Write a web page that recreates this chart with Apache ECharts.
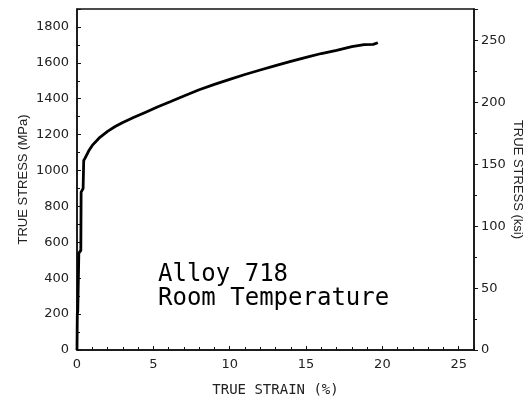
<!DOCTYPE html>
<html>
<head>
<meta charset="utf-8">
<script src="https://cdn.jsdelivr.net/npm/echarts@6/dist/echarts.min.js"></script>
<style>
html,body{margin:0;padding:0;background:#fff;}
#chart{width:526px;height:396px;}
</style>
</head>
<body>
<div id="chart"></div>
<script>
// True strain (%) and true stress (MPa)
var strain = [0, 0.02, 0.05, 0.12, 0.25, 0.27, 0.40, 0.44, 0.52, 0.62, 0.77, 1.0, 1.5, 2.0, 2.5, 3.0, 3.7, 4.5, 5.3, 6.1, 7.0, 8.0, 9.0, 10.0, 11.0, 12.0, 13.0, 14.0, 15.0, 16.0, 17.0, 18.0, 18.8, 19.4, 19.7];
var stressMPa = [0, 200, 215, 540, 555, 880, 900, 1056, 1068, 1085, 1110, 1140, 1185, 1218, 1245, 1268, 1295, 1325, 1355, 1383, 1415, 1450, 1480, 1508, 1535, 1560, 1585, 1608, 1630, 1652, 1670, 1690, 1702, 1703, 1712];
var xTicks = [0, 5, 10, 15, 20, 25];
var mpaTicks = [0, 200, 400, 600, 800, 1000, 1200, 1400, 1600, 1800];
var ksiTicks = [0, 50, 100, 150, 200, 250];
var annotation = ['Alloy 718', 'Room Temperature'];

var MPA_PER_KSI = 6.89476;
var mpaMax = 1900;
var ksiMax = mpaMax / MPA_PER_KSI;

var data = strain.map(function (s, i) { return [s, stressMPa[i]]; });

var tickFont = {fontFamily: 'DejaVu Sans', fontSize: 13, color: '#222'};
var nameFont = {fontFamily: 'Liberation Sans', fontSize: 13, color: '#222'};

var chart = echarts.init(document.getElementById('chart'), null, {renderer: 'canvas'});
chart.setOption({
  backgroundColor: '#fff',
  animation: false,
  grid: {left: 77, right: 52, top: 9, bottom: 46, containLabel: false, outerBoundsMode: 'none', show: true, borderColor: '#111', borderWidth: 1.5, backgroundColor: 'transparent'},
  xAxis: {
    type: 'value', min: 0, max: 26, interval: 5,
    name: 'TRUE STRAIN (%)', nameLocation: 'middle', nameGap: 33, nameMoveOverlap: false,
    nameTextStyle: {fontFamily: 'DejaVu Sans Mono', fontSize: 14, color: '#222'},
    axisLine: {show: true, lineStyle: {color: '#111', width: 1.5}},
    axisTick: {show: true, inside: true, length: 4, lineStyle: {color: '#111'}},
    minorTick: {show: true, splitNumber: 5, length: 3, lineStyle: {color: '#111'}},
    splitLine: {show: false},
    axisLabel: Object.assign({margin: 8, formatter: function (v) { return xTicks.indexOf(v) >= 0 ? String(v) : ''; }}, tickFont)
  },
  yAxis: [{
    type: 'value', min: 0, max: mpaMax, interval: 200, position: 'left',
    name: 'TRUE STRESS (MPa)', nameLocation: 'middle', nameGap: 47, nameMoveOverlap: false,
    nameTextStyle: nameFont,
    axisLine: {show: true, lineStyle: {color: '#111', width: 1.5}},
    axisTick: {show: true, inside: true, length: 4, lineStyle: {color: '#111'}},
    minorTick: {show: true, splitNumber: 2, length: 3, lineStyle: {color: '#111'}},
    splitLine: {show: false},
    axisLabel: Object.assign({margin: 8, formatter: function (v) { return mpaTicks.indexOf(v) >= 0 ? String(v) : ''; }}, tickFont)
  }, {
    type: 'value', min: 0, max: ksiMax, interval: 50, position: 'right',
    name: 'TRUE STRESS (ksi)', nameLocation: 'middle', nameGap: 37, nameRotate: -90, nameMoveOverlap: false,
    nameTextStyle: nameFont,
    axisLine: {show: true, lineStyle: {color: '#111', width: 1.5}},
    axisTick: {show: true, inside: false, length: 4, lineStyle: {color: '#111'}},
    minorTick: {show: true, splitNumber: 2, length: 3, lineStyle: {color: '#111'}},
    splitLine: {show: false},
    axisLabel: Object.assign({margin: 7, formatter: function (v) { return ksiTicks.indexOf(v) >= 0 ? String(v) : ''; }}, tickFont)
  }],
  series: [{
    type: 'line', yAxisIndex: 0, data: data, showSymbol: false, symbol: 'none',
    lineStyle: {color: '#000', width: 2.8}, clip: true
  }],
  graphic: [{
    type: 'text', left: 158, top: 263,
    style: {text: annotation.join('\n'), fontFamily: 'DejaVu Sans Mono', fontSize: 24, lineHeight: 24, fill: '#000'}
  }]
});
</script>
</body>
</html>
